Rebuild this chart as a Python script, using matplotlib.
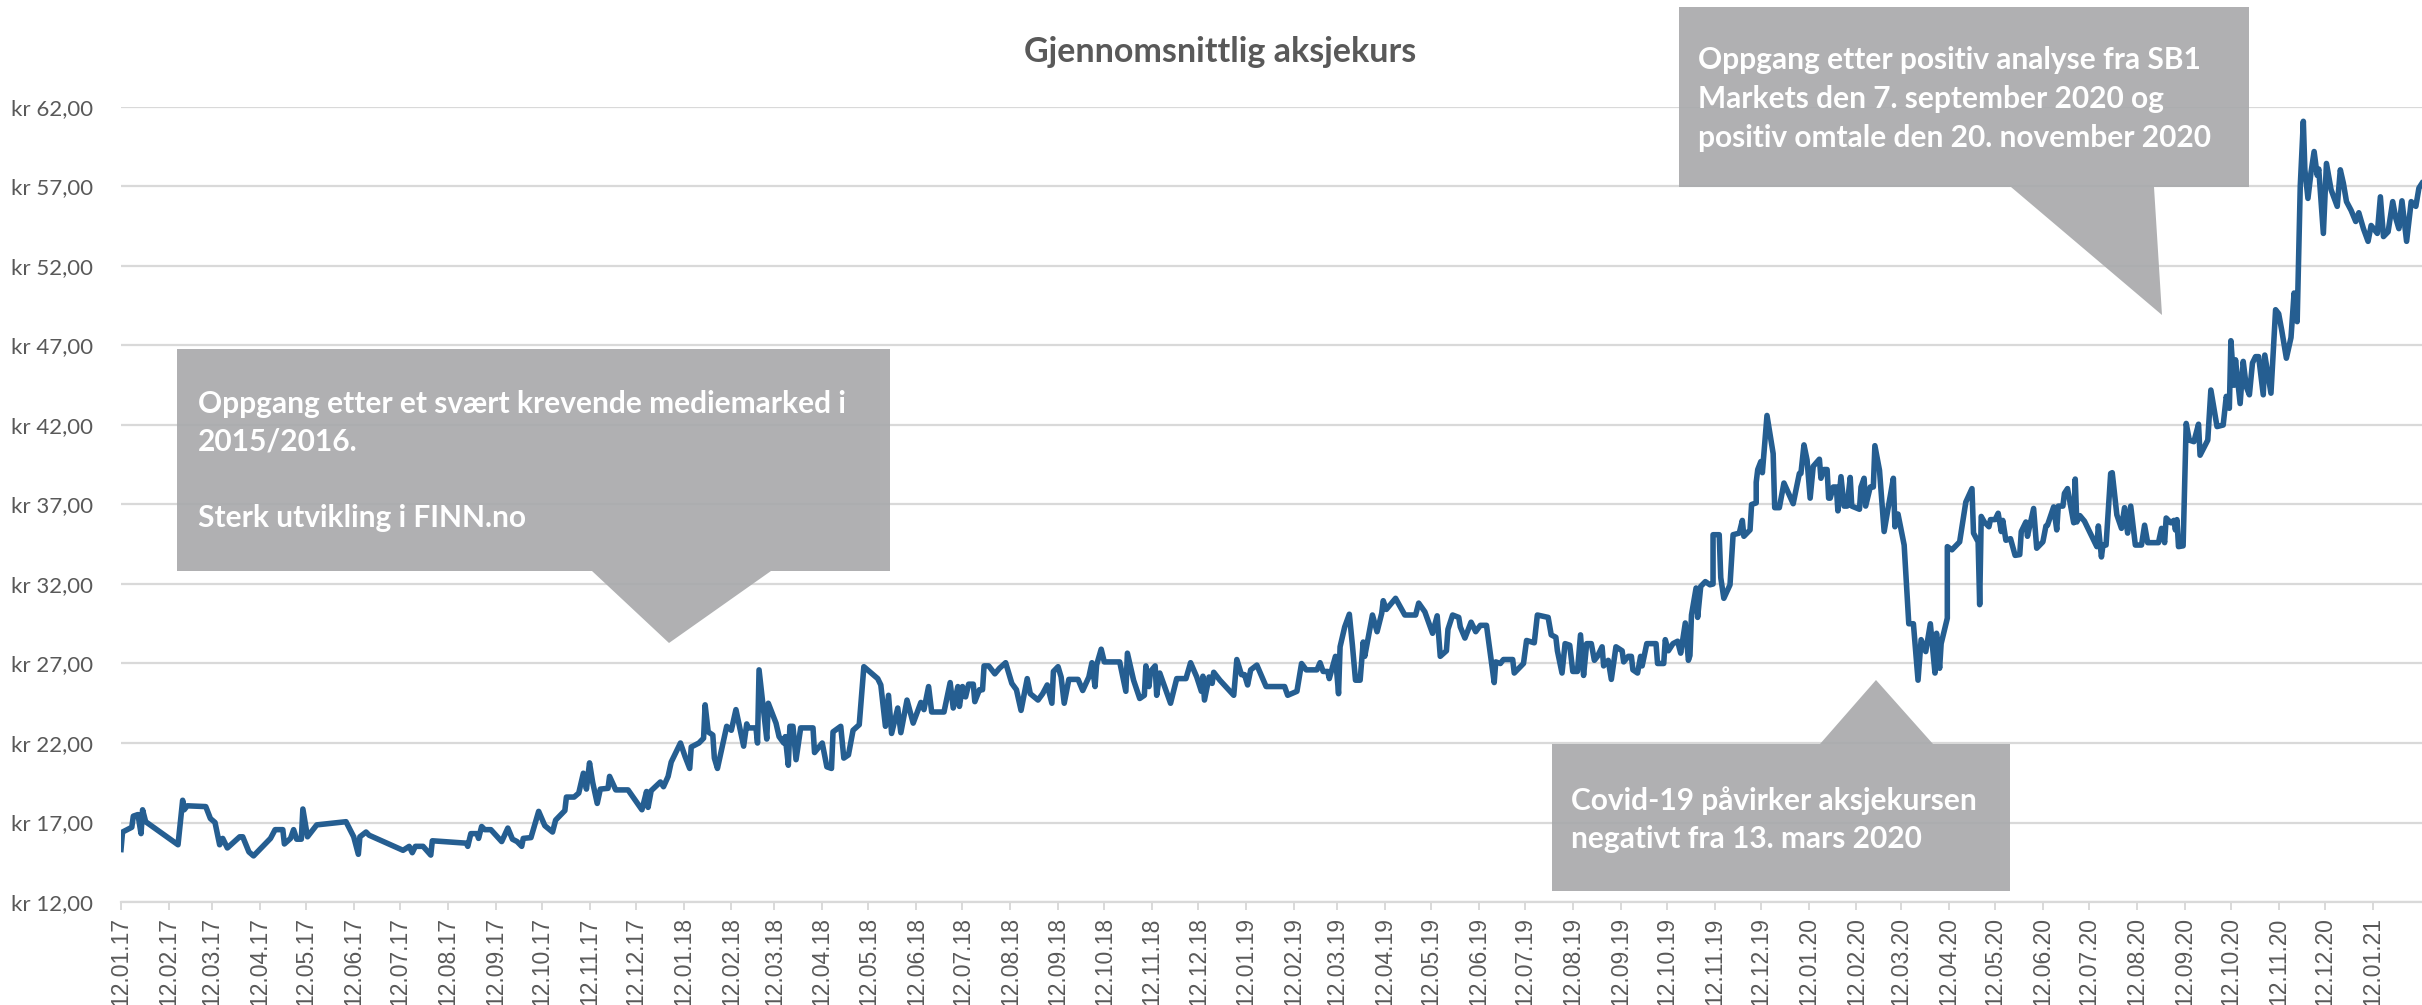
#!/usr/bin/env python
# -*- coding: utf-8 -*-

"""
Gjennomsnittlig aksjekurs 2017-2021 med kommentarbokser.
"""

# Third party modules.
import pandas as pd
import matplotlib
matplotlib.use("Agg")
import matplotlib.pyplot as plt
import matplotlib.dates as mdates
from matplotlib.patches import Polygon
from matplotlib.ticker import FuncFormatter

# Globals and constants variables.
START_DATE = "2017-01-12"
END_DATE = "2021-02-13"

# Days after START_DATE for each observation, and the average price (kr).
day_offsets = [
    0, 1, 7, 8, 11, 13, 14, 16, 37, 40, 41, 43, 55, 58, 61, 64, 66, 69, 77, 79,
    83, 86, 97, 100, 105, 106, 110, 112, 114, 117, 118, 121, 127, 146, 151, 154, 155, 159, 161, 183,
    187, 189, 191, 196, 201, 202, 224, 225, 227, 231, 232, 234, 236, 240, 247, 251, 254, 257, 260, 261,
    266, 271, 275, 280, 282, 288, 289, 294, 297, 300, 302, 304, 306, 309, 311, 316, 317, 321, 329, 338,
    341, 342, 344, 350, 352, 355, 357, 363, 366, 369, 370, 375, 378, 379, 381, 384, 385, 387, 393, 396,
    399, 404, 406, 407, 412, 413, 414, 419, 420, 425, 427, 430, 431, 433, 434, 436, 438, 441, 449, 450,
    455, 458, 461, 462, 467, 469, 472, 475, 479, 482, 491, 493, 496, 498, 500, 504, 506, 510, 514, 519,
    521, 524, 526, 534, 538, 540, 543, 544, 546, 548, 550, 553, 554, 557, 559, 560, 563, 567, 570, 574,
    578, 581, 584, 588, 590, 595, 598, 601, 604, 605, 608, 610, 612, 615, 618, 621, 624, 628, 630, 632,
    633, 636, 638, 648, 652, 653, 657, 661, 664, 665, 667, 668, 671, 672, 674, 681, 685, 691, 694, 698,
    701, 702, 703, 706, 708, 709, 713, 722, 724, 727, 729, 731, 733, 737, 743, 755, 757, 763, 766, 769,
    776, 778, 780, 783, 784, 788, 790, 791, 794, 797, 799, 801, 804, 806, 807, 809, 812, 815, 818, 819,
    821, 824, 827, 833, 840, 842, 846, 851, 854, 856, 860, 861, 864, 868, 869, 872, 876, 879, 882, 886,
    891, 892, 895, 897, 903, 904, 910, 912, 917, 919, 926, 928, 931, 932, 935, 937, 940, 942, 945, 947,
    949, 951, 954, 956, 958, 961, 962, 965, 967, 970, 974, 975, 978, 980, 981, 984, 986, 987, 990, 996,
    997, 1001, 1002, 1004, 1007, 1010, 1012, 1015, 1017, 1018, 1019, 1022, 1023, 1025, 1028, 1031, 1033, 1033, 1037, 1038,
    1040, 1044, 1046, 1050, 1052, 1053, 1057, 1058, 1061, 1061, 1062, 1064, 1065, 1068, 1072, 1073, 1076, 1079, 1085, 1089,
    1090, 1092, 1094, 1096, 1098, 1102, 1103, 1105, 1107, 1108, 1109, 1111, 1113, 1114, 1116, 1118, 1120, 1122, 1123, 1128,
    1129, 1131, 1132, 1135, 1137, 1138, 1141, 1144, 1147, 1150, 1151, 1153, 1157, 1160, 1163, 1166, 1168, 1171, 1174, 1177,
    1178, 1180, 1181, 1185, 1185, 1188, 1193, 1197, 1201, 1202, 1205, 1206, 1207, 1209, 1212, 1213, 1216, 1218, 1220, 1221,
    1223, 1226, 1229, 1232, 1233, 1236, 1237, 1241, 1243, 1247, 1249, 1250, 1254, 1256, 1257, 1260, 1261, 1263, 1267, 1268,
    1269, 1271, 1274, 1282, 1283, 1285, 1286, 1288, 1291, 1292, 1295, 1298, 1300, 1302, 1304, 1307, 1311, 1313, 1315, 1322,
    1324, 1326, 1327, 1330, 1332, 1333, 1334, 1335, 1338, 1340, 1342, 1345, 1348, 1349, 1354, 1356, 1360, 1364, 1366, 1368,
    1369, 1371, 1372, 1375, 1377, 1379, 1381, 1383, 1385, 1387, 1390, 1391, 1395, 1398, 1400, 1402, 1405, 1408, 1410, 1412,
    1414, 1416, 1417, 1419, 1421, 1423, 1425, 1426, 1429, 1431, 1434, 1438, 1440, 1442, 1444, 1447, 1450, 1452, 1455, 1458,
    1460, 1464, 1466, 1468, 1471, 1474, 1476, 1478, 1480, 1483, 1486, 1489, 1491, 1493,
]

prices = [
    15.30, 16.40, 16.70, 17.40, 17.50, 16.30, 17.80, 17.05, 15.60, 18.40, 17.80, 18.05, 18.00, 17.25, 17.00, 15.60, 16.00, 15.40, 16.10, 16.10,
    15.15, 14.90, 16.00, 16.55, 16.55, 15.65, 16.00, 16.55, 15.95, 15.95, 17.85, 16.10, 16.85, 17.05, 16.10, 15.00, 16.10, 16.40, 16.20, 15.25,
    15.50, 15.10, 15.50, 15.50, 14.95, 15.85, 15.70, 15.50, 16.30, 16.30, 16.00, 16.75, 16.55, 16.55, 15.80, 16.65, 15.95, 15.80, 15.50, 16.00,
    16.05, 17.70, 16.80, 16.40, 17.15, 17.75, 18.60, 18.60, 18.85, 20.10, 19.10, 20.75, 19.55, 18.20, 19.10, 19.15, 19.90, 19.05, 19.05, 17.80,
    18.95, 17.95, 19.00, 19.55, 19.25, 19.90, 20.80, 22.00, 21.15, 20.40, 21.75, 22.00, 22.30, 24.40, 22.70, 22.50, 21.05, 20.40, 23.05, 22.80,
    24.10, 21.80, 23.20, 22.95, 22.95, 22.00, 26.60, 22.25, 24.50, 23.25, 22.40, 22.00, 22.40, 20.60, 23.05, 23.05, 20.95, 22.95, 22.95, 21.40,
    22.00, 20.50, 20.40, 22.70, 23.05, 21.05, 21.25, 22.80, 23.15, 26.80, 26.05, 25.65, 23.05, 25.00, 22.60, 24.20, 22.65, 24.70, 23.25, 24.55,
    24.10, 25.55, 23.95, 23.95, 25.80, 24.20, 25.55, 24.30, 25.55, 24.90, 25.70, 25.70, 24.60, 25.35, 25.35, 26.85, 26.85, 26.35, 26.70, 27.05,
    25.75, 25.35, 24.05, 26.05, 25.10, 24.70, 25.10, 25.65, 24.50, 26.50, 26.80, 26.15, 24.50, 26.00, 26.00, 26.00, 25.30, 26.15, 27.05, 25.55,
    26.90, 27.90, 27.10, 27.10, 25.25, 27.65, 25.95, 24.80, 25.00, 26.85, 25.55, 26.50, 26.85, 25.00, 26.40, 24.50, 26.05, 26.05, 27.05, 26.15,
    25.25, 26.20, 24.70, 26.15, 25.75, 26.45, 25.95, 25.00, 27.25, 26.30, 26.30, 25.65, 26.60, 26.90, 25.55, 25.55, 25.00, 25.25, 27.00, 26.60,
    26.60, 27.05, 26.50, 26.50, 26.05, 27.45, 25.10, 28.05, 29.30, 30.10, 28.15, 25.95, 25.95, 28.35, 27.45, 28.50, 30.05, 29.00, 30.15, 30.95,
    30.40, 30.75, 31.10, 30.05, 30.05, 30.80, 30.25, 28.90, 30.00, 27.45, 27.80, 29.15, 30.05, 29.90, 29.30, 28.60, 29.60, 29.00, 29.40, 29.40,
    25.80, 27.10, 27.00, 27.25, 27.25, 26.40, 27.00, 28.45, 28.30, 30.05, 29.90, 28.80, 28.65, 27.80, 26.40, 28.25, 28.15, 26.50, 26.50, 28.80,
    26.25, 28.25, 28.25, 27.20, 27.45, 28.05, 26.85, 27.20, 26.00, 28.05, 27.80, 27.10, 27.45, 27.45, 26.60, 26.40, 27.45, 26.85, 28.25, 28.25,
    27.00, 27.00, 28.50, 27.80, 28.25, 28.40, 27.65, 29.55, 27.20, 27.50, 30.05, 31.75, 29.90, 31.85, 32.15, 31.95, 32.00, 35.10, 35.10, 32.40,
    31.10, 31.95, 35.10, 35.20, 36.00, 35.00, 35.40, 37.00, 37.10, 38.40, 39.20, 39.70, 39.00, 42.60, 40.20, 36.80, 36.80, 38.35, 37.05, 38.95,
    38.95, 40.75, 39.80, 37.40, 39.40, 39.85, 38.65, 39.20, 39.20, 37.40, 37.40, 38.10, 38.10, 36.60, 38.75, 36.90, 36.90, 38.70, 36.90, 36.70,
    38.10, 38.65, 36.90, 38.10, 38.10, 40.70, 39.15, 35.30, 37.00, 38.65, 35.60, 36.40, 34.45, 29.50, 29.50, 25.95, 28.50, 27.75, 29.50, 26.40,
    28.90, 26.70, 28.25, 29.85, 34.35, 34.15, 34.65, 37.15, 38.00, 35.20, 34.65, 30.70, 36.25, 35.90, 35.60, 36.05, 36.05, 36.45, 35.30, 36.00,
    34.75, 34.85, 33.80, 33.85, 35.30, 35.90, 35.00, 36.75, 34.25, 34.65, 35.65, 35.70, 36.85, 35.40, 36.90, 36.90, 37.70, 38.00, 35.85, 38.60,
    35.90, 36.30, 35.95, 34.35, 35.65, 33.70, 34.45, 34.45, 38.95, 39.00, 36.35, 35.50, 36.80, 35.20, 36.90, 34.45, 34.45, 35.70, 34.60, 34.60,
    35.50, 34.60, 36.15, 35.85, 36.00, 35.40, 36.05, 34.35, 34.40, 42.10, 41.05, 40.95, 42.05, 40.10, 41.05, 44.20, 41.90, 42.00, 43.80, 43.05,
    47.30, 44.50, 46.10, 43.35, 46.00, 44.40, 43.90, 45.90, 46.30, 46.30, 43.90, 46.40, 44.00, 49.25, 49.00, 47.95, 46.20, 47.50, 50.30, 48.50,
    57.00, 61.10, 58.05, 56.25, 57.90, 59.20, 57.70, 58.10, 54.05, 58.45, 56.80, 55.75, 58.05, 57.20, 56.05, 55.50, 54.80, 55.35, 54.35, 53.55,
    54.55, 54.05, 56.35, 53.85, 54.15, 56.05, 55.00, 54.35, 56.10, 53.55, 56.05, 55.75, 56.90, 57.20,
]

y_ticks = [12, 17, 22, 27, 32, 37, 42, 47, 52, 57, 62]
title = "Gjennomsnittlig aksjekurs"

callout_texts = [
    ["Oppgang etter et svært krevende mediemarked i", "2015/2016.", "", "Sterk utvikling i FINN.no"],
    ["Oppgang etter positiv analyse fra SB1", "Markets den 7. september 2020 og",
     "positiv omtale den 20. november 2020"],
    ["Covid-19 påvirker aksjekursen", "negativt fra 13. mars 2020"],
]

WIDTH_PX, HEIGHT_PX = 2422, 1005
LINE_COLOR = "#255e91"
GRID_COLOR = "#d9d9d9"
TEXT_COLOR = "#595959"
BOX_COLOR = "#a9aaac"
CALIBRI_LIKE = ["Lato", "DejaVu Sans"]


def fig_xy(x, y):
    """Pixel position (from top left) to figure fraction."""
    return x / WIDTH_PX, 1.0 - y / HEIGHT_PX


def draw_callout(fig, box, base, tip, lines, text_x, first_baseline, step):
    x0, y0, x1, y1 = box
    b0, b1 = base
    # pointer on bottom edge if the tip is below the box, else on the top edge
    if tip[1] > y1:
        outline = [(x0, y0), (x1, y0), (x1, y1), (b1, y1), tip, (b0, y1), (x0, y1)]
    else:
        outline = [(x0, y0), (b0, y0), tip, (b1, y0), (x1, y0), (x1, y1), (x0, y1)]
    poly = Polygon([fig_xy(x, y) for x, y in outline], closed=True,
                   transform=fig.transFigure, facecolor=BOX_COLOR, edgecolor="none",
                   alpha=0.92, zorder=5)
    fig.patches.append(poly)
    for i, line in enumerate(lines):
        if not line:
            continue
        fx, fy = fig_xy(text_x, first_baseline + i*step)
        fig.text(fx, fy, line, color="white", fontsize=21.5, fontweight="bold",
                 family=CALIBRI_LIKE, ha="left", va="baseline", zorder=6)


def kroner(value, pos):
    return ("kr %.2f" % value).replace(".", ",")


def run_chart():
    dates = pd.Timestamp(START_DATE) + pd.to_timedelta(day_offsets, unit="D")
    month_ticks = pd.date_range(START_DATE, "2021-01-12", freq=pd.DateOffset(months=1))

    fig = plt.figure(figsize=(WIDTH_PX/100, HEIGHT_PX/100), dpi=100)
    left, bottom = 121/WIDTH_PX, 1 - 902/HEIGHT_PX
    ax = fig.add_axes([left, bottom, 1 - left, (902 - 107)/HEIGHT_PX])

    ax.plot(dates, prices, color=LINE_COLOR, linewidth=4.0, solid_joinstyle="round",
            zorder=3)

    ax.set_xlim(pd.Timestamp(START_DATE), pd.Timestamp(END_DATE))
    ax.set_ylim(12, 62)
    ax.set_yticks(y_ticks)
    ax.yaxis.set_major_formatter(FuncFormatter(kroner))
    ax.set_xticks(month_ticks)
    ax.xaxis.set_major_formatter(mdates.DateFormatter("%d.%m.%y"))

    ax.grid(axis="y", color=GRID_COLOR, linewidth=1.6, zorder=0)
    for side in ("top", "right", "left"):
        ax.spines[side].set_visible(False)
    ax.spines["bottom"].set_color(GRID_COLOR)
    ax.spines["bottom"].set_linewidth(1.6)

    ax.tick_params(axis="y", length=0, pad=20, labelsize=16, labelcolor=TEXT_COLOR)
    ax.tick_params(axis="x", length=6, width=1.4, color=GRID_COLOR, direction="out",
                   pad=5, labelsize=16.5, labelcolor=TEXT_COLOR, labelrotation=90)
    for label in ax.get_yticklabels():
        label.set_family(CALIBRI_LIKE)
    for label in ax.get_xticklabels():
        label.set_family(["Liberation Sans", "DejaVu Sans"])
        label.set_verticalalignment("top")

    tx, ty = fig_xy(1220, 62)
    fig.text(tx, ty, title, ha="center", va="baseline", fontsize=24.5, fontweight="bold",
             color=TEXT_COLOR, family=CALIBRI_LIKE)

    draw_callout(fig, (177, 349, 890, 571), (592, 771), (669, 643),
                 callout_texts[0], 198, 413, 38)
    draw_callout(fig, (1679, 7, 2249, 187), (2011, 2154), (2162, 315),
                 callout_texts[1], 1698, 69, 39)
    draw_callout(fig, (1552, 744, 2010, 891), (1820, 1933), (1876, 680),
                 callout_texts[2], 1571, 810, 38)

    fig.savefig("out.png", dpi=100)


if __name__ == '__main__':  # pragma: no cover
    run_chart()
